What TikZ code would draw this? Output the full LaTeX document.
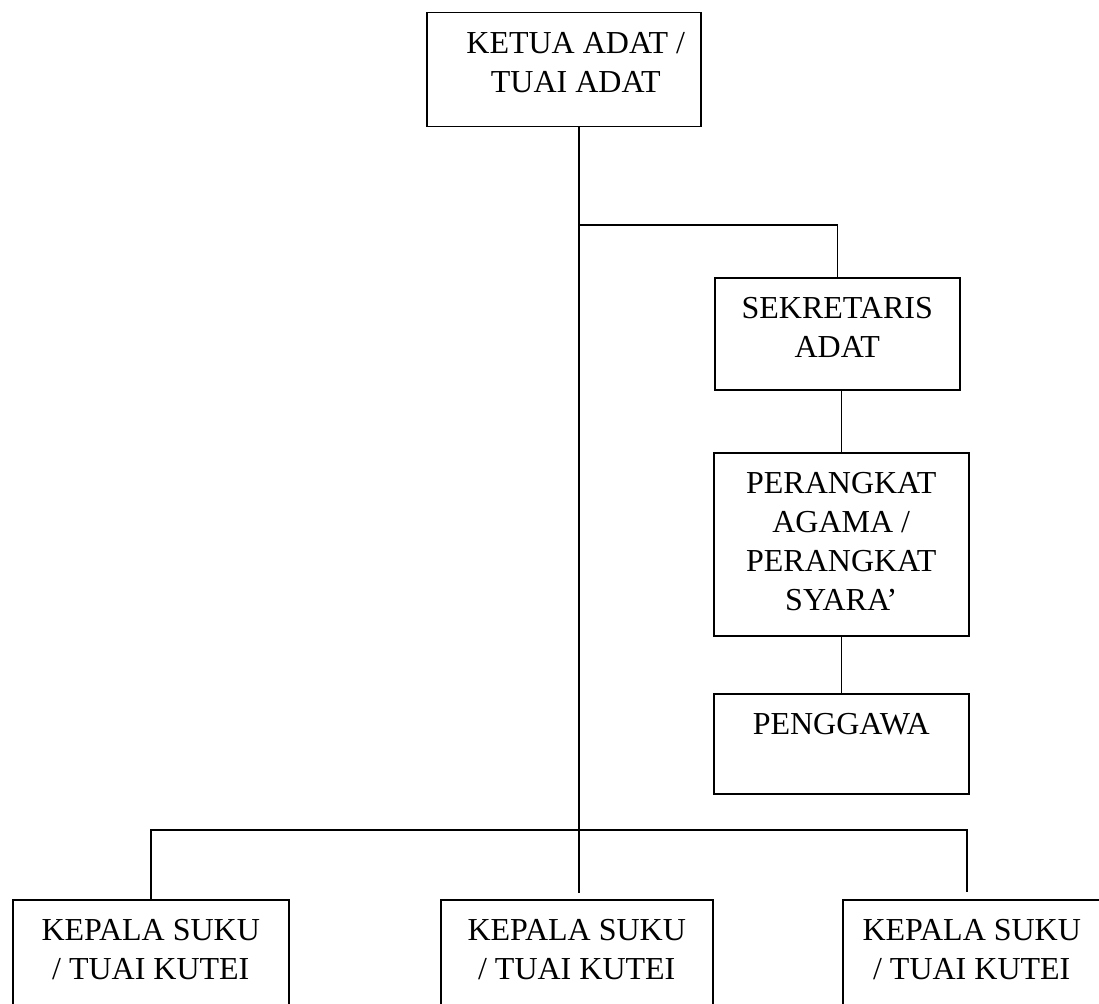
\documentclass[tikz,border=0pt]{standalone}
\usepackage{fontspec}
\setmainfont{Liberation Serif}
\newcommand{\bt}[4][0]{\parbox[t][#3pt][t]{#2pt}{\centering\leftskip=#1pt plus 1fil\rule{0pt}{41pt}#4}}
\begin{document}
\begin{tikzpicture}[x=1pt,y=-1pt,line width=1.5pt,
  box/.style={draw,line width=1.5pt,inner sep=0pt,anchor=north west,font=\fontsize{32}{39}\selectfont}]
\useasboundingbox (0,0) rectangle (1099,1003);
\clip (0,0) rectangle (1099,1003);
\fill[white] (0,0) rectangle (1099,1003);
\node[box] (ketua) at (426,12) {\bt[24]{274}{114}{KETUA ADAT /\\TUAI ADAT}};
\node[box] (sek) at (714,277) {\bt{245}{112}{SEKRETARIS\\ADAT}};
\node[box] (per) at (713,452) {\bt{255}{183}{PERANGKAT\\AGAMA /\\PERANGKAT\\SYARA’}};
\node[box] (peng) at (713,693) {\bt{255}{100}{PENGGAWA}};
\node[box] (b1) at (12,899) {\bt{276}{130}{KEPALA SUKU\\/ TUAI KUTEI}};
\node[box] (b2) at (440,899) {\bt{272}{130}{KEPALA SUKU\\/ TUAI KUTEI}};
\node[box] (b3) at (842,899) {\bt{258}{130}{KEPALA SUKU\\/ TUAI KUTEI}};
\coordinate (jA) at (579,225);
\coordinate (jB) at (579,830);
\coordinate (jC) at (967,830);
\coordinate (e2) at (579,893);
\coordinate (e3) at (967,892);
\draw (ketua.south -| jA) -- (jB);
\draw (jA) -| (sek.north);
\draw (sek.south -| per.north) -- (per.north);
\draw (per.south) -- (peng.north);
\draw (b1.north) -- (b1.north |- jB) -- (jC) -- (e3);
\draw (jB) -- (e2);
\end{tikzpicture}
\end{document}
